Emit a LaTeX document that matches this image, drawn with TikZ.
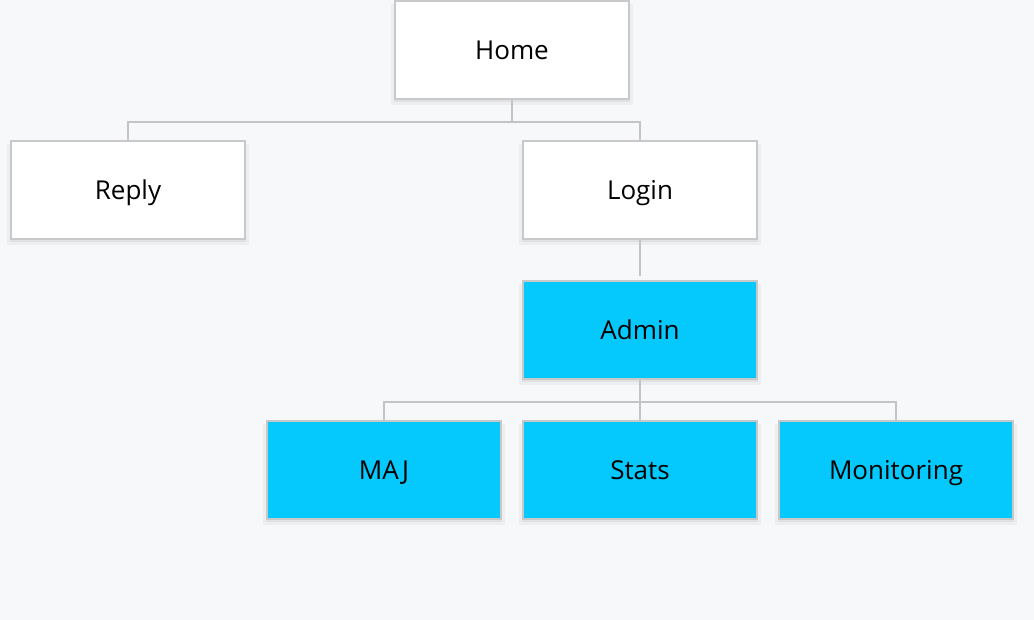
\documentclass[tikz,border=0pt]{standalone}
\usepackage{fontspec}
\setmainfont{Open Sans}
\usetikzlibrary{shadows}
\definecolor{pagebg}{HTML}{F7F8FA}
\definecolor{boxline}{HTML}{C9C9C9}
\definecolor{linkgrey}{HTML}{C4C4C6}
\definecolor{admincyan}{HTML}{05C9FD}
\tikzset{
  pagebox/.style={draw=boxline, line width=1pt, fill=white,
    minimum width=117pt, minimum height=49pt, inner sep=0pt,
    text height=9.3pt, text depth=0pt,
    font=\fontsize{13}{15}\selectfont,
    drop shadow={shadow xshift=0pt, shadow yshift=-2pt,
      shadow scale=1.03, opacity=0.04, fill=black},
    drop shadow={shadow xshift=0pt, shadow yshift=-1pt,
      shadow scale=1.01, opacity=0.05, fill=black}},
  adminbox/.style={pagebox, fill=admincyan},
  link/.style={draw=linkgrey, line width=1pt}
}

\begin{document}
\begin{tikzpicture}[x=1pt,y=1pt]

  \newcommand\colstep{128}
  \newcommand\rowstep{70}

  \fill[pagebg] (0,0) rectangle (517,-310);
  \useasboundingbox (0,0) rectangle (517,-310);

  % public pages
  \node[pagebox] (home)  at (2.0*\colstep, -25-0*\rowstep) {Home};
  \node[pagebox] (reply) at (0.5*\colstep, -25-1*\rowstep) {Reply};
  \node[pagebox] (login) at (2.5*\colstep, -25-1*\rowstep) {Login};

  % admin area
  \node[adminbox] (admin)   at (2.5*\colstep, -25-2*\rowstep) {Admin};
  \node[adminbox] (maj)     at (1.5*\colstep, -25-3*\rowstep) {MAJ};
  \node[adminbox] (stats)   at (2.5*\colstep, -25-3*\rowstep) {Stats};
  \node[adminbox] (monitor) at (3.5*\colstep, -25-3*\rowstep) {Monitoring};

  \draw[link] (home.south) -- ++(0,-11) -| (reply.north); % home->reply
  \draw[link] (home.south) -- ++(0,-11) -| (login.north); % home->login
  \draw[link, shorten >=2pt] (login.south) -- (admin.north); % login->admin

  \draw[link] (admin.south) -- ++(0,-11) -| (maj.north);
  \draw[link] (admin.south) -- (stats.north);
  \draw[link] (admin.south) -- ++(0,-11) -| (monitor.north);

\end{tikzpicture}
\end{document}
